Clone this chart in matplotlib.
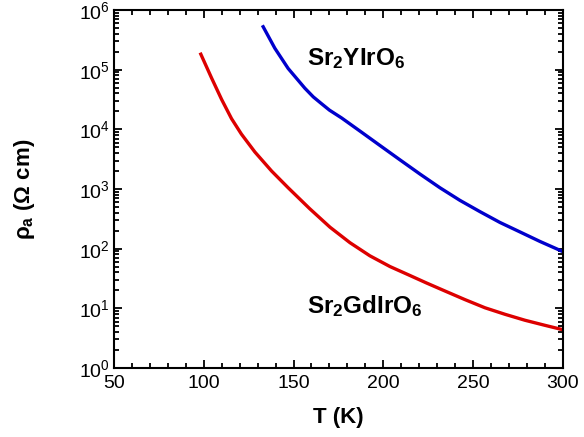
import matplotlib
matplotlib.use("Agg")
import matplotlib.pyplot as plt
import numpy as np
from matplotlib.ticker import LogLocator, LogFormatterMathtext, MultipleLocator, NullFormatter

plt.rcParams['font.family'] = ['Liberation Sans', 'DejaVu Sans']
plt.rcParams['mathtext.fontset'] = 'custom'
plt.rcParams['mathtext.rm'] = 'Liberation Sans'
plt.rcParams['mathtext.bf'] = 'Liberation Sans:bold'
plt.rcParams['mathtext.it'] = 'Liberation Sans:italic'

# Sr2GdIrO6 (red)
T_gd = [98.4, 104.4, 110, 115.5, 121, 128.5, 137.8, 147, 159, 170.3, 181.4, 192.5, 203.7,
        214.8, 224, 234.3, 245.4, 256.6, 267.7, 278.8, 289.9, 300]
rho_gd = [1.82e5, 7.24e4, 3.16e4, 1.51e4, 8.32e3, 4.17e3, 2.0e3, 1.05e3, 468, 229, 126, 75.9, 50.1,
          35.5, 26.6, 19.5, 14.0, 10.2, 7.94, 6.31, 5.19, 4.37]

# Sr2YIrO6 (blue)
T_y = [133.1, 139.6, 147, 156.3, 161, 165.6, 170, 176.8, 187.5, 198.1, 209.2, 220.4, 231.5, 242.6,
       253.8, 264.9, 276, 287.2, 300]
rho_y = [5.25e5, 2.29e5, 1.05e5, 4.90e4, 3.5e4, 2.69e4, 2.1e4, 1.55e4, 9.12e3, 5.37e3, 3.09e3, 1.78e3,
         1.05e3, 646, 417, 275, 191, 132, 89.1]

fig = plt.figure(figsize=(5.84, 4.37), dpi=100)
ax = fig.add_axes([0.195, 0.158, 0.769, 0.819])

ax.plot(T_gd, rho_gd, color='#dd0000', lw=2.4, solid_joinstyle='round')
ax.plot(T_y, rho_y, color='#0000cc', lw=2.4, solid_joinstyle='round')

ax.set_yscale('log')
ax.set_xlim(50, 300)
ax.set_ylim(1, 1e6)

ax.xaxis.set_major_locator(MultipleLocator(50))
ax.xaxis.set_minor_locator(MultipleLocator(10))
ax.yaxis.set_major_locator(LogLocator(base=10, numticks=10))
ax.yaxis.set_minor_locator(LogLocator(base=10, subs=np.arange(2, 10), numticks=20))
ax.yaxis.set_major_formatter(LogFormatterMathtext())
ax.yaxis.set_minor_formatter(NullFormatter())

ax.tick_params(which='both', direction='in', top=True, right=True, labelsize=14, width=1.3)
ax.tick_params(which='major', length=6)
ax.tick_params(which='minor', length=3.5)
ax.tick_params(axis='x', which='major', pad=5)
ax.tick_params(axis='y', which='major', pad=3)
for s in ax.spines.values():
    s.set_linewidth(1.5)

ax.set_xlabel('T (K)', fontsize=16, fontweight='bold', labelpad=11)
ax.set_ylabel(r'ρ$_\mathbf{a}$ (Ω cm)', fontsize=16, fontweight='bold', labelpad=30)

ax.text(157.5, 1.2e5, r'$\mathbf{Sr_2YIrO_6}$', fontsize=17.5, ha='left', va='baseline')
ax.text(157.5, 8.3, r'$\mathbf{Sr_2GdIrO_6}$', fontsize=17.5, ha='left', va='baseline')

fig.savefig('out.png', dpi=100)
